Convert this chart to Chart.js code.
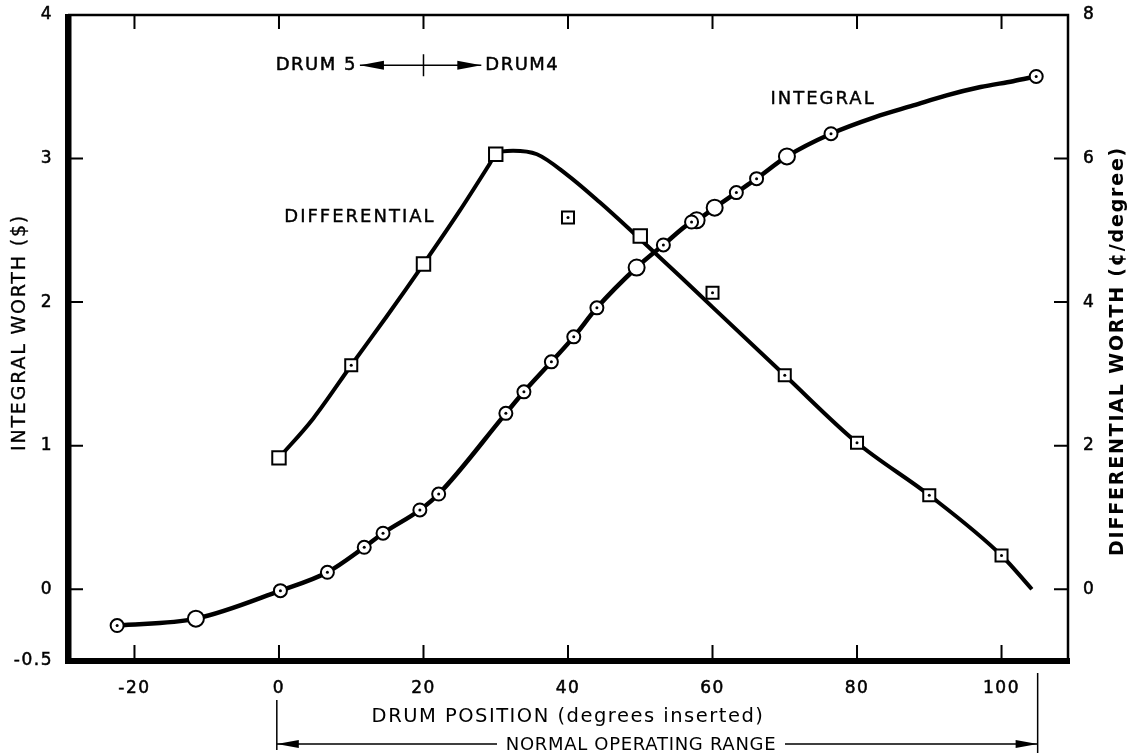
<!DOCTYPE html>
<html>
<head>
<meta charset="utf-8">
<script src="https://cdn.jsdelivr.net/npm/chart.js@4.4.1/dist/chart.umd.min.js"></script>
<style>
  html, body { margin: 0; padding: 0; background: #fff; }
  canvas { display: block; }
</style>
</head>
<body>
<canvas id="drum-chart" width="1133" height="756"></canvas>
<script>
// axis ticks
const xTicks = [-20, 0, 20, 40, 60, 80, 100];
const integralTicks = [-0.5, 0, 1, 2, 3, 4];
const diffTicks = [0, 2, 4, 6, 8];

// integral worth ($) - circles with centre dot
const intDotX = [-22.4, 0.2, 6.7, 11.8, 14.4, 19.5, 22.1, 31.4, 33.9, 37.7, 40.8, 44.0, 53.2, 57.1, 63.3, 66.1, 76.4, 104.8];
const intDotY = [-0.253, -0.010, 0.118, 0.292, 0.390, 0.552, 0.663, 1.225, 1.375, 1.584, 1.758, 1.960, 2.398, 2.558, 2.763, 2.860, 3.173, 3.572];
// integral worth ($) - open circles
const intOpenX = [-11.5, 49.5, 57.8, 60.3, 70.3];
const intOpenY = [-0.205, 2.241, 2.570, 2.658, 3.015];
// extra readings of the faired integral line where there are no points
const intLineX = [82.5, 87.8, 92.4, 97.1, 101.6];
const intLineY = [3.289, 3.370, 3.440, 3.498, 3.539];

// differential worth (cents/degree) - open squares
const diffOpenX = [0, 20, 30, 50];
const diffOpenY = [1.83, 4.53, 6.06, 4.92];
// differential worth - squares with centre dot
const diffDotX = [10, 40, 60, 70, 80, 90, 100];
const diffDotY = [3.12, 5.18, 4.13, 2.98, 2.04, 1.31, 0.47];

// faired differential curve
const diffCurveX = [0, 4.75, 10, 14.9, 20, 25, 29, 30, 31, 32.4, 35.7, 39.8, 44.4, 49, 55.5, 60, 70, 80, 90, 100, 104.2];
const diffCurveY = [1.83, 2.38, 3.12, 3.80, 4.53, 5.27, 5.90, 6.06, 6.10, 6.11, 6.06, 5.78, 5.39, 4.97, 4.36, 3.93, 2.98, 2.04, 1.31, 0.47, 0];

const normalRange = [-0.3, 105];

const FONT = "'DejaVu Sans', sans-serif";

function pts(xs, ys) {
  return xs.map((x, i) => ({ x, y: ys[i] }));
}

const intCurve = pts(intDotX, intDotY)
  .concat(pts(intOpenX, intOpenY), pts(intLineX, intLineY))
  .sort((a, b) => a.x - b.x);

function arrowHead(ctx, x, y, dir, len, half) {
  ctx.beginPath();
  ctx.moveTo(x, y);
  ctx.lineTo(x - dir * len, y - half);
  ctx.lineTo(x - dir * len, y + half);
  ctx.closePath();
  ctx.fill();
}

// heavy-ish lettering like the original drawing
function text(ctx, str, x, y, size, align, spacing, weight, stroke) {
  ctx.font = `${weight || 'normal'} ${size}px ${FONT}`;
  ctx.letterSpacing = spacing + 'px';
  ctx.textAlign = align;
  ctx.textBaseline = 'middle';
  ctx.fillText(str, x, y);
  if (stroke) {
    ctx.lineWidth = stroke;
    ctx.strokeText(str, x, y);
  }
}

const spacingPlugin = {
  id: 'spacing',
  beforeDraw(chart) {
    chart.ctx.letterSpacing = '1.5px';
  }
};

const centreDots = {
  id: 'centreDots',
  afterDatasetsDraw(chart) {
    const ctx = chart.ctx;
    ctx.save();
    ctx.fillStyle = '#000';
    chart.data.datasets.forEach((ds, i) => {
      if (!ds.centreDot) return;
      chart.getDatasetMeta(i).data.forEach((p) => {
        ctx.beginPath();
        ctx.arc(p.x, p.y, 1.5, 0, Math.PI * 2);
        ctx.fill();
      });
    });
    ctx.restore();
  }
};

const frame = {
  id: 'frame',
  afterDraw(chart) {
    const { ctx, chartArea: a, scales } = chart;
    const { x, y, y2 } = scales;
    ctx.save();
    ctx.strokeStyle = '#000';
    ctx.fillStyle = '#000';

    // inward ticks
    ctx.lineWidth = 2;
    ctx.beginPath();
    xTicks.forEach((v) => {
      const px = x.getPixelForValue(v);
      ctx.moveTo(px, a.bottom); ctx.lineTo(px, a.bottom - 16);
      ctx.moveTo(px, a.top); ctx.lineTo(px, a.top + 14);
    });
    integralTicks.forEach((v) => {
      const py = y.getPixelForValue(v);
      ctx.moveTo(a.left, py); ctx.lineTo(a.left + 15, py);
    });
    diffTicks.forEach((v) => {
      const py = y2.getPixelForValue(v);
      ctx.moveTo(a.right, py); ctx.lineTo(a.right - 14, py);
    });
    ctx.stroke();

    // frame: heavy left/bottom, light top/right
    ctx.lineWidth = 2.5;
    ctx.beginPath();
    ctx.moveTo(a.left, a.top); ctx.lineTo(a.right, a.top); ctx.lineTo(a.right, a.bottom);
    ctx.stroke();
    ctx.fillRect(a.left - 3, a.top - 1, 6.5, a.bottom - a.top + 4);
    ctx.fillRect(a.left - 3, a.bottom - 3, a.right - a.left + 5, 6);

    // drum 5 / drum 4 marker
    const dY = y.getPixelForValue(3.65);
    const dMid = x.getPixelForValue(20);
    const dL = x.getPixelForValue(11.2);
    const dR = x.getPixelForValue(28);
    ctx.lineWidth = 1.5;
    ctx.beginPath();
    ctx.moveTo(dL, dY); ctx.lineTo(dR, dY);
    ctx.moveTo(dMid, dY - 11); ctx.lineTo(dMid, dY + 11);
    ctx.stroke();
    arrowHead(ctx, dL, dY, -1, 24, 4.5);
    arrowHead(ctx, dR, dY, 1, 24, 4.5);
    text(ctx, 'DRUM 5', dL - 3, dY, 18, 'right', 1.5, null, 0.5);
    text(ctx, 'DRUM4', dR + 4, dY, 18, 'left', 1.5, null, 0.5);

    // curve labels
    text(ctx, 'INTEGRAL', x.getPixelForValue(75.3), y.getPixelForValue(3.41), 18, 'center', 2, null, 0.4);
    text(ctx, 'DIFFERENTIAL', x.getPixelForValue(11.2), y2.getPixelForValue(5.18), 18, 'center', 2, null, 0.4);

    // axis titles (both read bottom to top)
    ctx.save();
    ctx.translate(20, 451);
    ctx.rotate(-Math.PI / 2);
    text(ctx, 'INTEGRAL WORTH ($)', 0, 0, 19, 'left', 1.8, null, 0.3);
    ctx.restore();

    ctx.save();
    ctx.translate(a.right + 50, 556);
    ctx.rotate(-Math.PI / 2);
    text(ctx, 'DIFFERENTIAL WORTH (\u00a2/degree)', 0, 0, 19, 'left', 1.8, 'bold');
    ctx.restore();

    // normal operating range bracket
    const rL = x.getPixelForValue(normalRange[0]);
    const rR = x.getPixelForValue(normalRange[1]);
    const rY = a.bottom + 83;
    ctx.lineWidth = 1.5;
    ctx.beginPath();
    ctx.moveTo(rL, a.bottom + 39); ctx.lineTo(rL, a.bottom + 89);
    ctx.moveTo(rR, a.bottom + 12); ctx.lineTo(rR, a.bottom + 92);
    ctx.moveTo(rL, rY); ctx.lineTo(497, rY);
    ctx.moveTo(785, rY); ctx.lineTo(rR, rY);
    ctx.stroke();
    arrowHead(ctx, rL, rY, -1, 22, 4);
    arrowHead(ctx, rR, rY, 1, 22, 4);
    text(ctx, 'NORMAL OPERATING RANGE', 641, rY + 1, 18, 'center', 0.7);

    ctx.restore();
  }
};

Chart.defaults.font.family = FONT;
Chart.defaults.font.size = 17;
Chart.defaults.color = '#000';

function fitY(width) {
  return (s) => {
    s.width = width;
    s.paddingTop = 0;
    s.paddingBottom = 0;
  };
}

const tickOpts = {
  padding: 15,
  crossAlign: 'near',
  textStrokeColor: '#000',
  textStrokeWidth: 0.5,
  callback: (v) => String(v)
};

new Chart(document.getElementById('drum-chart'), {
  type: 'scatter',
  data: {
    datasets: [
      {
        label: 'Integral',
        data: intCurve,
        yAxisID: 'y',
        showLine: true,
        borderColor: '#000',
        borderWidth: 4.5,
        pointRadius: 0,
        cubicInterpolationMode: 'monotone',
        order: 5
      },
      {
        label: 'Differential',
        data: pts(diffCurveX, diffCurveY),
        yAxisID: 'y2',
        showLine: true,
        borderColor: '#000',
        borderWidth: 4,
        pointRadius: 0,
        cubicInterpolationMode: 'monotone',
        order: 5
      },
      {
        label: 'Integral points',
        data: pts(intDotX, intDotY),
        yAxisID: 'y',
        pointStyle: 'circle',
        pointRadius: 6.5,
        pointBackgroundColor: '#fff',
        pointBorderColor: '#000',
        pointBorderWidth: 2,
        centreDot: true,
        order: 1
      },
      {
        label: 'Integral points (open)',
        data: pts(intOpenX, intOpenY),
        yAxisID: 'y',
        pointStyle: 'circle',
        pointRadius: 8,
        pointBackgroundColor: '#fff',
        pointBorderColor: '#000',
        pointBorderWidth: 2,
        order: 2
      },
      {
        label: 'Differential points (open)',
        data: pts(diffOpenX, diffOpenY),
        yAxisID: 'y2',
        pointStyle: 'rect',
        pointRadius: 9.5,
        pointBackgroundColor: '#fff',
        pointBorderColor: '#000',
        pointBorderWidth: 2,
        order: 1
      },
      {
        label: 'Differential points',
        data: pts(diffDotX, diffDotY),
        yAxisID: 'y2',
        pointStyle: 'rect',
        pointRadius: 8.5,
        pointBackgroundColor: '#fff',
        pointBorderColor: '#000',
        pointBorderWidth: 2,
        centreDot: true,
        order: 1
      }
    ]
  },
  options: {
    responsive: false,
    animation: false,
    layout: { padding: { top: 15, left: 0, right: 0, bottom: 0 } },
    plugins: {
      legend: { display: false },
      tooltip: { enabled: false }
    },
    scales: {
      x: {
        type: 'linear',
        min: -29.2,
        max: 109.2,
        grid: { display: false, drawTicks: false },
        border: { display: false },
        afterBuildTicks: (s) => { s.ticks = xTicks.map((v) => ({ value: v })); },
        afterFit: (s) => { s.height = 95; s.paddingLeft = 0; s.paddingRight = 0; },
        ticks: { ...tickOpts, padding: 17 },
        title: {
          display: true,
          text: 'DRUM POSITION (degrees inserted)',
          font: { size: 19.5 },
          padding: { top: 0, bottom: 27 }
        }
      },
      y: {
        position: 'left',
        min: -0.5,
        max: 4,
        grid: { display: false, drawTicks: false },
        border: { display: false },
        afterBuildTicks: (s) => { s.ticks = integralTicks.map((v) => ({ value: v })); },
        afterFit: fitY(68),
        ticks: tickOpts
      },
      y2: {
        position: 'right',
        min: -1,
        max: 8,
        grid: { display: false, drawTicks: false },
        border: { display: false },
        afterBuildTicks: (s) => { s.ticks = diffTicks.map((v) => ({ value: v })); },
        afterFit: fitY(65),
        ticks: tickOpts
      }
    }
  },
  plugins: [spacingPlugin, centreDots, frame]
});
</script>
</body>
</html>
